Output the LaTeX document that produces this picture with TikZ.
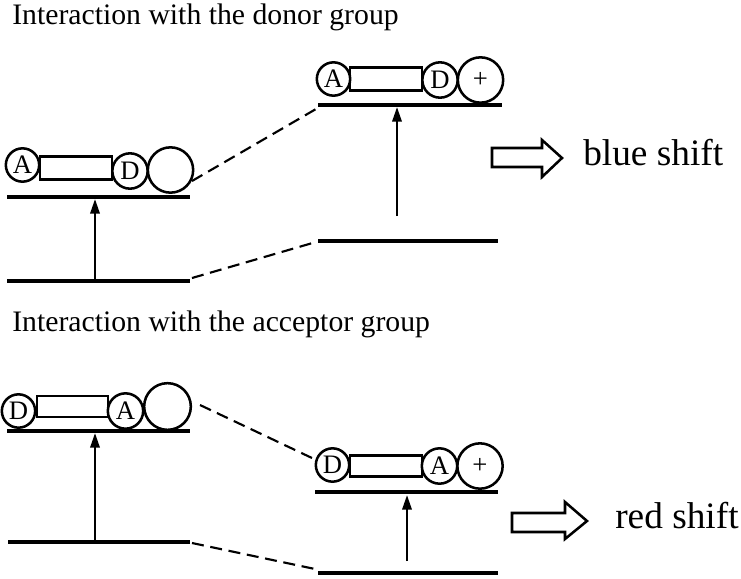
\documentclass[tikz,border=0pt]{standalone}
\usepackage{fontspec}
\setmainfont{Liberation Serif}
\usetikzlibrary{arrows.meta}
\begin{document}
\begin{tikzpicture}[x=0.75pt,y=-0.75pt,
  level/.style={line width=2.5pt},
  ring/.style={circle,draw,line width=1.9pt,inner sep=0pt,font=\fontsize{20}{20}\selectfont},
  bar/.style={draw,line width=1.9pt,inner sep=0pt},
  dashline/.style={line width=1.6pt,dash pattern=on 9pt off 5pt},
  up/.style={line width=1.8pt,-{Triangle[length=11pt,width=7pt]}},
  heading/.style={font=\fontsize{22.3}{24}\selectfont,anchor=base west,inner sep=0pt},
  shiftlabel/.style={font=\fontsize{28}{30}\selectfont,anchor=base west,inner sep=0pt},
  block/.style={line width=1.9pt,line join=miter}]
\useasboundingbox (0,0) rectangle (741,578);

% titles
\node[heading] (t1) at (12,24) {Interaction with the donor group};
\node[heading] (t2) at (12,331) {Interaction with the acceptor group};

% ---- top-left
\node[ring,minimum size=25pt] (A1) at (22.5,165) {A};
\node[bar,minimum width=54pt,minimum height=17pt] (r1) at (76,168) {};
\node[ring,minimum size=26.5pt] (D1) at (130,171) {D};
\node[ring,minimum size=34pt] (c1) at (170.5,170) {};
\coordinate (u1l) at (7,197); \coordinate (u1r) at (190,197);
\coordinate (l1l) at (7,281); \coordinate (l1r) at (190,281);
\draw[level] (u1l) -- (u1r);
\draw[level] (l1l) -- (l1r);
\coordinate (ar1b) at (95,280); \coordinate (ar1t) at (95,199);
\draw[up] (ar1b) -- (ar1t);

% ---- top-right
\node[ring,minimum size=25pt] (A2) at (333.5,79) {A};
\node[bar,minimum width=54pt,minimum height=17pt] (r2) at (386,79) {};
\node[ring,minimum size=26.5pt] (D2) at (440,80) {D};
\node[ring,minimum size=34pt] (P2) at (480.5,80) {+};
\coordinate (u2l) at (318,105); \coordinate (u2r) at (502,105);
\coordinate (l2l) at (318,241); \coordinate (l2r) at (498,241);
\draw[level] (u2l) -- (u2r);
\draw[level] (l2l) -- (l2r);
\coordinate (ar2b) at (397,216); \coordinate (ar2t) at (397,107);
\draw[up] (ar2b) -- (ar2t);

\coordinate (d1a) at (192,181); \coordinate (d1b) at (316,109);
\draw[dashline] (d1a) -- (d1b);
\coordinate (d2a) at (192,278); \coordinate (d2b) at (316,242);
\draw[dashline] (d2a) -- (d2b);

% blue shift arrow
\draw[block] (492,148) -- (542,148) -- (542,140) -- (562,158) -- (542,177) -- (542,167) -- (492,167) -- cycle;
\node[shiftlabel] (bs) at (583,165) {blue shift};

% ---- bottom-left
\node[ring,minimum size=25pt] (D3) at (18.5,411) {D};
\node[ring,minimum size=26.5pt] (A3) at (125.5,411) {A};
\node[bar,minimum width=53pt,minimum height=16pt] (r3) at (72.5,406.5) {};
\node[ring,minimum size=35pt] (c3) at (167.5,406.5) {};
\coordinate (u3l) at (7,431); \coordinate (u3r) at (190,431);
\coordinate (l3l) at (8,542); \coordinate (l3r) at (190,542);
\draw[level] (u3l) -- (u3r);
\draw[level] (l3l) -- (l3r);
\coordinate (ar3b) at (95,541); \coordinate (ar3t) at (95,433);
\draw[up] (ar3b) -- (ar3t);

% ---- bottom-right
\node[ring,minimum size=25pt] (D4) at (332.5,465) {D};
\node[bar,minimum width=54pt,minimum height=16pt] (r4) at (386,466) {};
\node[ring,minimum size=26.5pt] (A4) at (439.5,466) {A};
\node[ring,minimum size=34pt] (P4) at (480,466) {+};
\coordinate (u4l) at (315,492); \coordinate (u4r) at (498,492);
\coordinate (l4l) at (318,573); \coordinate (l4r) at (498,573);
\draw[level] (u4l) -- (u4r);
\draw[level] (l4l) -- (l4r);
\coordinate (ar4b) at (407,561); \coordinate (ar4t) at (407,495);
\draw[up] (ar4b) -- (ar4t);

\coordinate (d3a) at (200,405); \coordinate (d3b) at (312,458);
\draw[dashline] (d3a) -- (d3b);
\coordinate (d4a) at (192,543); \coordinate (d4b) at (315,569);
\draw[dashline] (d4a) -- (d4b);

% red shift arrow
\draw[block] (512,513) -- (565,513) -- (565,502) -- (587,521) -- (565,539) -- (565,532) -- (512,532) -- cycle;
\node[shiftlabel] (rs) at (615,528) {red shift};
\end{tikzpicture}
\end{document}
